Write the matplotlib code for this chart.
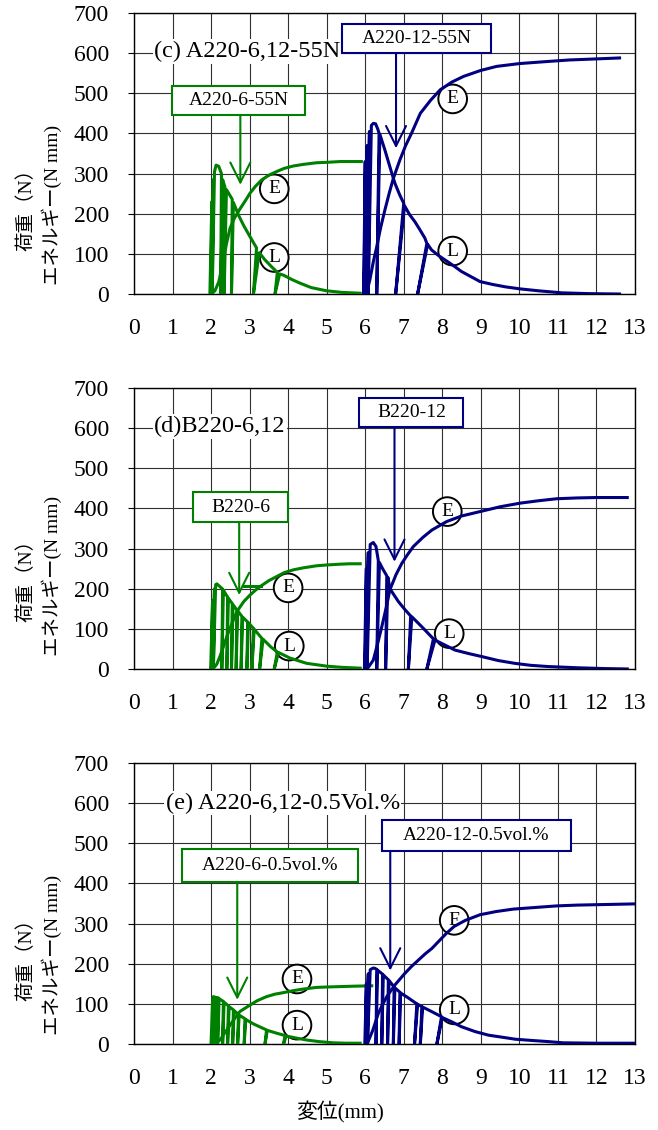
import matplotlib
matplotlib.use("Agg")
import matplotlib.pyplot as plt
from matplotlib.patches import Rectangle

plt.rcParams['font.family'] = ['Liberation Serif', 'Noto Sans CJK JP']

GREEN = '#008000'
NAVY = '#000080'

# ---- (c) A220-6,12-55N ----
c6_load_x = [1.97, 2.02, 2.00, 2.06, 2.03, 2.09, 2.13, 2.20, 2.27, 2.25, 2.30, 2.36, 2.34, 2.40, 2.45, 2.55, 2.53,
             2.58, 2.71, 2.85, 3.01, 3.18, 3.10, 3.25, 3.40, 3.57, 3.72, 3.66, 3.78, 3.88, 4.10, 4.31, 4.60, 5.00,
             5.40, 5.87]
c6_load_y = [0, 230, 0, 285, 0, 305, 321, 318, 300, 0, 285, 267, 0, 260, 252, 236, 0,
             228, 197, 170, 143, 115, 0, 103, 85, 68, 54, 0, 50, 47, 36, 27, 16, 8,
             4, 2]
c6_energy_x = [2.00, 2.10, 2.20, 2.30, 2.40, 2.49, 2.60, 2.75, 2.90, 3.01, 3.15, 3.31, 3.50, 3.70, 3.90, 4.14,
               4.40, 4.74, 5.00, 5.35, 5.60, 5.90]
c6_energy_y = [0, 8, 30, 75, 125, 163, 188, 212, 234, 251, 268, 284, 296, 305, 313, 319,
               323, 327, 328, 330, 330, 330]

c12_load_x = [5.96, 6.00, 5.97, 6.05, 6.02, 6.11, 6.08, 6.16, 6.21, 6.27, 6.33, 6.36, 6.30, 6.38, 6.51, 6.64,
              6.77, 6.90, 7.00, 6.79, 7.02, 7.15, 7.29, 7.42, 7.55, 7.60, 7.36, 7.62, 7.72, 7.90, 8.07, 8.30,
              8.50, 8.75, 8.98, 9.30, 9.63, 10.0, 10.5, 11.1, 11.8, 12.6]
c12_load_y = [0, 330, 0, 370, 0, 405, 0, 420, 425, 424, 410, 400, 0, 398, 359, 317,
              276, 246, 226, 0, 220, 198, 180, 160, 139, 126, 0, 124, 110, 96, 85, 70,
              56, 43, 31, 24, 18, 13, 8, 3, 1, 0]
c12_energy_x = [6.03, 6.12, 6.21, 6.30, 6.40, 6.51, 6.62, 6.73, 6.90, 7.05, 7.20, 7.43, 7.70, 7.95, 8.25, 8.55,
                9.00, 9.41, 10.0, 10.7, 11.3, 11.83, 12.6]
c12_energy_y = [0, 35, 80, 118, 165, 209, 250, 288, 334, 370, 400, 450, 483, 509, 528, 542,
                557, 567, 574, 579, 583, 585, 588]

# ---- (d) B220-6,12 ----
d6_load_x = [1.99, 2.04, 2.01, 2.09, 2.06, 2.12, 2.15, 2.22, 2.30, 2.28, 2.32, 2.43, 2.41, 2.45, 2.55, 2.53,
             2.57, 2.67, 2.65, 2.69, 2.80, 2.78, 2.82, 2.95, 2.93, 2.97, 3.10, 3.06, 3.12, 3.32, 3.26, 3.35,
             3.55, 3.72, 3.64, 3.75, 4.05, 4.48, 5.00, 5.40, 5.87]
d6_load_y = [0, 170, 0, 200, 0, 210, 212, 206, 199, 0, 196, 179, 0, 176, 163, 0,
             160, 147, 0, 145, 131, 0, 129, 117, 0, 115, 101, 0, 99, 76, 0, 74,
             55, 42, 0, 41, 27, 14, 7, 4, 2]
d6_energy_x = [2.05, 2.15, 2.23, 2.32, 2.41, 2.55, 2.67, 2.85, 3.01, 3.15, 3.27, 3.50, 3.70, 3.90, 4.14, 4.40,
               4.74, 5.00, 5.35, 5.60, 5.87]
d6_energy_y = [0, 12, 31, 55, 81, 115, 143, 168, 184, 196, 205, 220, 230, 240, 247, 252,
               257, 259, 261, 262, 262]
d6_mark_x = [2.85, 3.30]
d6_mark_y = [207, 207]

d12_load_x = [5.98, 6.03, 6.00, 6.08, 6.05, 6.13, 6.21, 6.28, 6.34, 6.30, 6.37, 6.45, 6.56, 6.53, 6.59, 6.64,
              6.86, 7.03, 7.18, 7.12, 7.21, 7.47, 7.77, 7.60, 7.81, 8.10, 8.33, 8.70, 9.02, 9.45, 9.88, 10.30,
              10.75, 11.5, 12.2, 12.8]
d12_load_y = [0, 250, 0, 290, 0, 310, 315, 305, 270, 0, 265, 250, 232, 0, 228, 200,
              168, 148, 132, 0, 130, 105, 75, 0, 72, 58, 47, 38, 31, 21, 14, 9,
              6, 3, 1, 0]
d12_energy_x = [6.05, 6.21, 6.32, 6.43, 6.55, 6.64, 6.80, 6.95, 7.10, 7.25, 7.50, 7.73, 8.11, 8.50, 8.98, 9.50,
                10.02, 10.5, 10.97, 11.5, 12.0, 12.8]
d12_energy_y = [0, 22, 62, 105, 155, 197, 235, 263, 285, 305, 328, 346, 367, 381, 392, 404,
                413, 419, 424, 426, 427, 427]

# ---- (e) A220-6,12-0.5Vol.% ----
e6_load_x = [2.00, 2.04, 2.06, 2.10, 2.08, 2.13, 2.19, 2.17, 2.21, 2.32, 2.30, 2.34, 2.45, 2.43, 2.47, 2.58,
             2.56, 2.60, 2.71, 2.69, 2.73, 2.88, 2.86, 2.90, 3.10, 3.44, 3.40, 3.46, 3.70, 3.92, 3.88, 3.95,
             4.20, 4.48, 4.80, 5.17, 5.50, 5.87]
e6_load_y = [0, 110, 118, 117, 0, 116, 115, 0, 113, 106, 0, 104, 95, 0, 93, 85,
             0, 83, 74, 0, 72, 63, 0, 61, 50, 35, 0, 34, 27, 21, 0, 20,
             15, 10, 6, 3, 2, 2]
e6_energy_x = [2.10, 2.23, 2.41, 2.60, 2.75, 3.01, 3.20, 3.44, 3.65, 3.88, 4.14, 4.40, 4.74, 5.00, 5.35, 5.70,
               6.17]
e6_energy_y = [0, 10, 35, 62, 81, 97, 108, 118, 124, 128, 133, 137, 141, 142, 143, 144,
               145]

e12_load_x = [5.99, 6.03, 6.01, 6.08, 6.06, 6.13, 6.20, 6.24, 6.30, 6.28, 6.32, 6.45, 6.43, 6.47, 6.60, 6.58,
              6.62, 6.75, 6.73, 6.77, 6.90, 6.88, 6.92, 7.10, 7.34, 7.28, 7.36, 7.47, 7.43, 7.49, 7.70, 7.98,
              7.86, 8.00, 8.25, 8.50, 8.85, 9.20, 9.55, 9.89, 10.3, 10.75, 11.14, 12.0, 13.0]
e12_load_y = [0, 150, 0, 175, 0, 185, 189, 189, 186, 0, 184, 174, 0, 172, 160, 0,
              158, 142, 0, 140, 129, 0, 127, 116, 100, 0, 99, 93, 0, 92, 82, 68,
              0, 66, 55, 43, 31, 22, 17, 12, 9, 6, 3, 2, 2]
e12_energy_x = [6.05, 6.20, 6.34, 6.45, 6.56, 6.77, 7.03, 7.20, 7.38, 7.55, 7.73, 7.94, 8.10, 8.31, 8.60, 8.98,
                9.40, 9.84, 10.4, 10.97, 11.5, 12.0, 13.0]
e12_energy_y = [0, 35, 76, 98, 118, 147, 176, 193, 209, 224, 238, 259, 275, 293, 308, 322,
                330, 336, 340, 344, 346, 347, 349]

panels = [
    dict(title="(c) A220-6,12-55N", title_xy=(0.52, 604),
         curves=[(c6_load_x, c6_load_y, GREEN), (c6_energy_x, c6_energy_y, GREEN),
                 (c12_load_x, c12_load_y, NAVY), (c12_energy_x, c12_energy_y, NAVY)],
         boxes=[("A220-6-55N", (0.99, 445, 3.46, 73), 2.76, 272, GREEN),
                ("A220-12-55N", (5.41, 600, 3.85, 73), 6.80, 363, NAVY)],
         circles=[("E", 3.64, 262), ("L", 3.64, 91), ("E", 8.27, 486), ("L", 8.27, 107)]),
    dict(title="(d)B220-6,12", title_xy=(0.52, 604),
         curves=[(d6_load_x, d6_load_y, GREEN), (d6_energy_x, d6_energy_y, GREEN),
                 (d6_mark_x, d6_mark_y, GREEN),
                 (d12_load_x, d12_load_y, NAVY), (d12_energy_x, d12_energy_y, NAVY)],
         boxes=[("B220-6", (1.54, 366, 2.46, 74), 2.73, 184, GREEN),
                ("B220-12", (5.85, 602, 2.70, 72), 6.76, 267, NAVY)],
         circles=[("E", 4.0, 202), ("L", 4.03, 57), ("E", 8.13, 392), ("L", 8.18, 88)]),
    dict(title="(e) A220-6,12-0.5Vol.%", title_xy=(0.82, 600),
         curves=[(e6_load_x, e6_load_y, GREEN), (e6_energy_x, e6_energy_y, GREEN),
                 (e12_load_x, e12_load_y, NAVY), (e12_energy_x, e12_energy_y, NAVY)],
         boxes=[("A220-6-0.5vol.%", (1.25, 403, 4.56, 83), 2.68, 110, GREEN),
                ("A220-12-0.5vol.%", (6.43, 480, 4.90, 79), 6.65, 183, NAVY)],
         circles=[("E", 4.23, 162), ("L", 4.23, 47), ("E", 8.31, 308), ("L", 8.31, 85)]),
]

fig = plt.figure(figsize=(6.58, 11.3), dpi=100)
positions = [[0.2036, 0.7398, 0.7614, 0.2487],
             [0.2036, 0.4080, 0.7614, 0.2487],
             [0.2036, 0.0761, 0.7614, 0.2487]]
ylabel_y = [0.8186, 0.4903, 0.1549]

for p, pos, yl in zip(panels, positions, ylabel_y):
    ax = fig.add_axes(pos)
    ax.set_xlim(0, 13)
    ax.set_ylim(0, 700)
    ax.set_xticks(range(0, 14))
    ax.set_yticks(range(0, 701, 100))
    ax.grid(True, color='#303030', lw=0.8)
    ax.set_axisbelow(True)
    for s in ax.spines.values():
        s.set_linewidth(1.0)
    ax.tick_params(axis='x', length=0, pad=17, labelsize=17)
    ax.tick_params(axis='y', direction='out', length=4, pad=14, labelsize=17)

    for xs, ys, col in p['curves']:
        ax.plot(xs, ys, color=col, lw=2.2, zorder=3)

    tx, ty = p['title_xy']
    ax.text(tx, ty, p['title'], fontsize=17.5, ha='left', va='center', zorder=6,
            bbox=dict(fc='white', ec='none', pad=1))

    for label, (bx, by, bw, bh), ax_x, tip_y, col in p['boxes']:
        ax.add_patch(Rectangle((bx, by), bw, bh, fc='white', ec=col, lw=1.5, zorder=6))
        ax.text(bx + bw / 2, by + bh / 2, label, fontsize=14, ha='center', va='center', zorder=7)
        ax.annotate('', xy=(ax_x, tip_y), xytext=(ax_x, by),
                    arrowprops=dict(arrowstyle='->,head_length=0.8,head_width=0.4', color=col, lw=1.5,
                                    shrinkA=0, shrinkB=0, mutation_scale=18), zorder=5)

    for letter, cx, cy in p['circles']:
        ax.text(cx, cy, letter, fontsize=14, ha='center', va='center', zorder=2.5,
                bbox=dict(boxstyle='circle,pad=0.3', fc='white', ec='black', lw=1.4))

    fig.text(0.060, yl, "荷重（N）\nエネルギー(N mm)", rotation=90, ha='center', va='center',
             fontsize=14, linespacing=1.3)

fig.text(340 / 658, 1 - 1112 / 1130, "変位(mm)", ha='center', va='center', fontsize=15)

fig.savefig("out.png", dpi=100)
